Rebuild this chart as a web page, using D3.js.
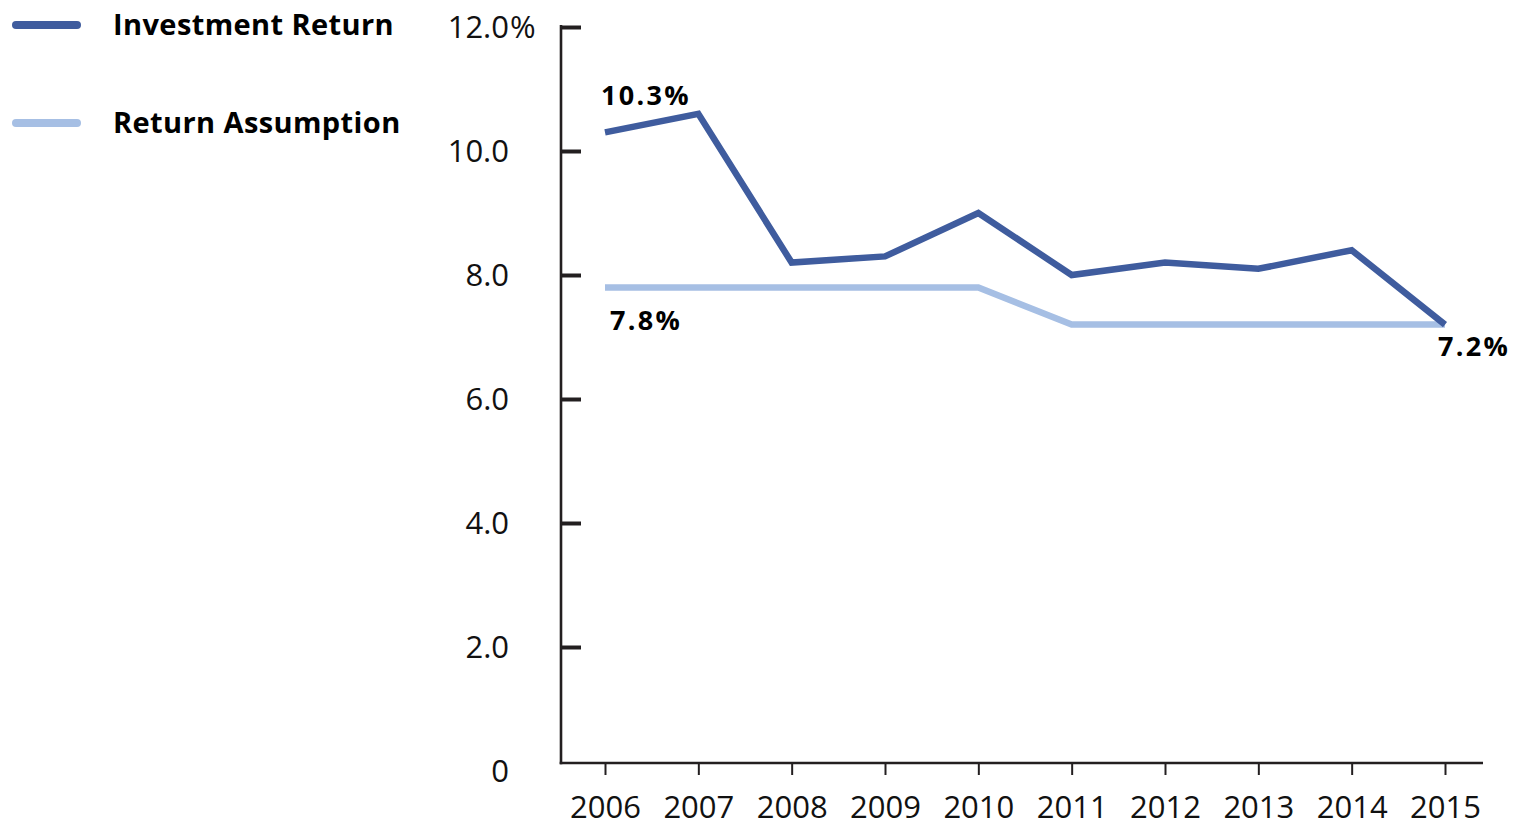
<!DOCTYPE html>
<html>
<head>
<meta charset="utf-8">
<script src="https://cdn.jsdelivr.net/npm/d3@7"></script>
<style>
  html, body { margin: 0; padding: 0; background: #ffffff; }
  svg { display: block; }
</style>
</head>
<body>
<script>
// ---- data ----
const years = [2006, 2007, 2008, 2009, 2010, 2011, 2012, 2013, 2014, 2015];
const investmentReturn = [10.3, 10.6, 8.2, 8.3, 9.0, 8.0, 8.2, 8.1, 8.4, 7.2];
const returnAssumption = [7.8, 7.8, 7.8, 7.8, 7.8, 7.2, 7.2, 7.2, 7.2, 7.2];
const yTicks = [0, 2, 4, 6, 8, 10, 12];
const seriesNames = ["Investment Return", "Return Assumption"];
const pointLabels = [
  { series: 0, index: 0, text: "10.3%" },
  { series: 1, index: 0, text: "7.8%" },
  { series: 0, index: 9, text: "7.2%" }
];

// ---- layout ----
const W = 1515, H = 826;
const colors = ["#3F5C9E", "#A6BFE4"];
const axisColor = "#231F20";
const font = "'Open Sans', 'Noto Sans', sans-serif";
const tickFont = "31px";

const svg = d3.select("body").append("svg").attr("width", W).attr("height", H);

const x = d3.scaleLinear().domain([years[0], years[years.length - 1]]).range([605, 1445]);
const y = d3.scaleLinear().domain([0, 12]).range([771, 27]);
const axisX = 561;          // y-axis position
const baseY = 763;          // x-axis line position
const axisRight = 1483;

// ---- y axis ----
const yAxis = d3.axisLeft(y).tickValues(yTicks).tickSize(-20).tickSizeOuter(0).tickPadding(52)
  .tickFormat(d => d === 0 ? "0" : d3.format(".1f")(d));
const gy = svg.append("g").attr("transform", `translate(${axisX},0)`).call(yAxis);
gy.select(".domain").remove();
gy.selectAll(".tick line").attr("stroke", axisColor).attr("stroke-width", 4)
  .attr("display", d => d === 0 ? "none" : null);
gy.selectAll(".tick text").attr("fill", "#111").style("font-family", font).style("font-size", tickFont)
  .attr("dy", "0.35em");
// percent sign hangs after the top tick label
gy.selectAll(".tick").filter(d => d === 12).append("text")
  .attr("x", -51).attr("dy", "0.35em").attr("text-anchor", "start")
  .attr("fill", "#111").style("font-family", font).style("font-size", tickFont).text("%");
svg.append("line").attr("x1", axisX).attr("x2", axisX).attr("y1", y(12) - 2).attr("y2", baseY + 1.2)
  .attr("stroke", axisColor).attr("stroke-width", 2.6);

// ---- x axis ----
const xAxis = d3.axisBottom(x).tickValues(years).tickSize(12).tickSizeOuter(0).tickPadding(21)
  .tickFormat(d3.format("d"));
const gx = svg.append("g").attr("transform", `translate(0,${baseY})`).call(xAxis);
gx.select(".domain").remove();
gx.selectAll(".tick line").attr("stroke", axisColor).attr("stroke-width", 2);
gx.selectAll(".tick text").attr("fill", "#111").style("font-family", font).style("font-size", tickFont);
svg.append("line").attr("x1", axisX - 1.3).attr("x2", axisRight).attr("y1", baseY).attr("y2", baseY)
  .attr("stroke", axisColor).attr("stroke-width", 2.6);

// ---- lines ----
const line = d3.line().x((d, i) => x(years[i])).y(d => y(d));
[returnAssumption, investmentReturn].forEach((vals, k) => {
  const si = k === 0 ? 1 : 0;
  svg.append("path").datum(vals).attr("d", line)
    .attr("fill", "none").attr("stroke", colors[si]).attr("stroke-width", 6.5)
    .attr("stroke-linejoin", "miter").attr("stroke-linecap", "butt");
});

// ---- point labels ----
const seriesVals = [investmentReturn, returnAssumption];
pointLabels.forEach((p, i) => {
  const px = x(years[p.index]), py = y(seriesVals[p.series][p.index]);
  let tx, ty;
  if (i === 0) { tx = px - 4; ty = py - 27; }
  else if (i === 1) { tx = px + 5; ty = py + 43; }
  else { tx = px - 7; ty = py + 31; }
  svg.append("text").attr("x", tx).attr("y", ty).attr("text-anchor", "start")
    .attr("fill", "#000").style("font-family", font).style("font-size", "27px").style("font-weight", 700)
    .style("letter-spacing", "2.3px")
    .text(p.text);
});

// ---- legend ----
const legend = svg.append("g");
seriesNames.forEach((name, i) => {
  const ly = 25 + i * 98;
  legend.append("line").attr("x1", 16).attr("x2", 77).attr("y1", ly).attr("y2", ly)
    .attr("stroke", colors[i]).attr("stroke-width", 8).attr("stroke-linecap", "round");
  legend.append("text").attr("x", 113).attr("y", ly).attr("dy", "0.35em")
    .attr("fill", "#000").style("font-family", font).style("font-size", "29px").style("font-weight", 700)
    .style("letter-spacing", "0.4px")
    .text(name);
});
</script>
</body>
</html>
